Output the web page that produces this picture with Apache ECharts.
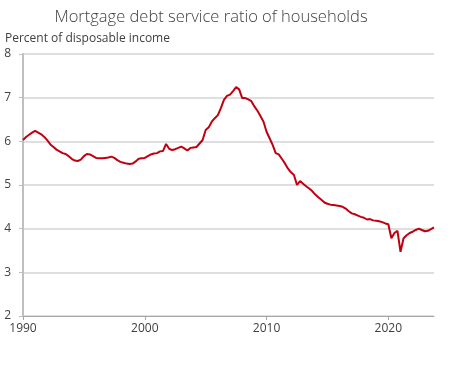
<!DOCTYPE html>
<html>
<head>
<meta charset="utf-8">
<script src="https://cdn.jsdelivr.net/npm/echarts@6/dist/echarts.min.js"></script>
<style>
html,body{margin:0;padding:0;background:#fff;}
#chart{width:458px;height:366px;}
</style>
</head>
<body>
<div id="chart"></div>
<script>
const titleText = "Mortgage debt service ratio of households";
const unitText = "Percent of disposable income";
const startYear = 1990;
// Quarterly values, 1990Q1 .. 2023Q4
const ratio1990s = [
  6.03, 6.10, 6.15, 6.20,
  6.24, 6.20, 6.16, 6.10,
  6.02, 5.93, 5.87, 5.81,
  5.77, 5.73, 5.71, 5.66,
  5.60, 5.56, 5.55, 5.58,
  5.66, 5.71, 5.70, 5.66,
  5.62, 5.61, 5.61, 5.62,
  5.63, 5.65, 5.62, 5.57,
  5.53, 5.51, 5.49, 5.48,
  5.49, 5.54, 5.60, 5.61
];
const ratio2000s = [
  5.62, 5.66, 5.70, 5.72,
  5.73, 5.77, 5.78, 5.94,
  5.83, 5.80, 5.82, 5.85,
  5.88, 5.84, 5.79, 5.85,
  5.86, 5.87, 5.95, 6.03,
  6.26, 6.32, 6.45, 6.53,
  6.60, 6.76, 6.95, 7.04,
  7.07, 7.15, 7.24, 7.19,
  6.99, 6.99, 6.96, 6.92,
  6.80, 6.70, 6.58, 6.45
];
const ratio2010s = [
  6.22, 6.07, 5.92, 5.73,
  5.70, 5.60, 5.50, 5.38,
  5.29, 5.23, 5.00, 5.09,
  5.03, 4.97, 4.92, 4.86,
  4.78, 4.72, 4.66, 4.60,
  4.57, 4.55, 4.54, 4.53,
  4.52, 4.50, 4.46, 4.40,
  4.35, 4.33, 4.30, 4.27,
  4.25, 4.21, 4.22, 4.19,
  4.18, 4.17, 4.15, 4.12
];
const ratio2020s = [
  4.10, 3.78, 3.90, 3.95,
  3.47, 3.78, 3.85, 3.90,
  3.93, 3.97, 4.00, 3.97,
  3.94, 3.95, 3.99, 4.03
];
const xTickYears = [1990, 2000, 2010, 2020];
const yMin = 2, yMax = 8, yStep = 1;

const allValues = ratio1990s.concat(ratio2000s, ratio2010s, ratio2020s);
const seriesData = allValues.map((v, i) => [startYear + i / 4, v]);
const xMax = startYear + (allValues.length - 1) / 4;

const chart = echarts.init(document.getElementById('chart'), null, {renderer: 'canvas'});
const font = '"Open Sans", "Segoe UI", sans-serif';
chart.setOption({
  animation: false,
  backgroundColor: '#ffffff',
  title: [{
    text: titleText,
    left: 211, top: 9, textAlign: 'center', padding: 0,
    textStyle: {fontFamily: font, fontSize: 16.5, fontWeight: 300, color: '#404040'}
  }, {
    text: unitText,
    left: 5, top: 33, padding: 0,
    textStyle: {fontFamily: font, fontSize: 12, fontWeight: 'normal', color: '#404040'}
  }],
  grid: {left: 23, right: 24, top: 54, bottom: 50, containLabel: false},
  xAxis: {
    type: 'value',
    min: startYear, max: xMax,
    interval: 10,
    axisLine: {show: true, lineStyle: {color: '#a6a6a6', width: 1}},
    axisTick: {show: true, length: 4, lineStyle: {color: '#a6a6a6'}, customValues: xTickYears},
    axisLabel: {
      customValues: xTickYears,
      color: '#404040', fontFamily: font, fontSize: 12, margin: 7,
      formatter: v => String(Math.round(v))
    },
    splitLine: {show: false}
  },
  yAxis: {
    type: 'value',
    min: yMin, max: yMax, interval: yStep,
    axisLine: {show: true, lineStyle: {color: '#bfbfbf', width: 2}},
    axisTick: {show: true, length: 4, lineStyle: {color: '#bfbfbf'}},
    axisLabel: {color: '#404040', fontFamily: font, fontSize: 12, margin: 12},
    splitLine: {show: true, lineStyle: {color: '#d4d4d4', width: 1.5}}
  },
  series: [{
    type: 'line',
    data: seriesData,
    showSymbol: false,
    symbol: 'none',
    lineStyle: {color: '#c00010', width: 2},
    itemStyle: {color: '#c00010'},
    z: 5
  }]
});
</script>
</body>
</html>
